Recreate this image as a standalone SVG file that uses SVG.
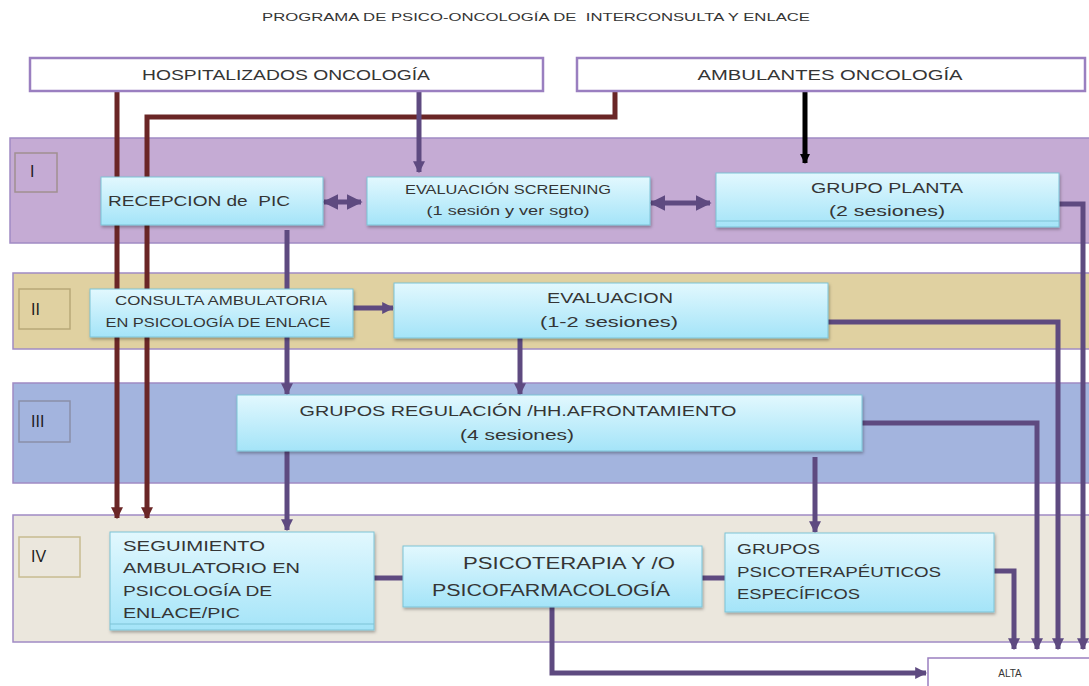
<svg xmlns="http://www.w3.org/2000/svg" width="1089" height="686" viewBox="0 0 1089 686">
<defs>
<linearGradient id="boxg" x1="0" y1="0" x2="0" y2="1">
<stop offset="0" stop-color="#e2f8fe"/>
<stop offset="1" stop-color="#a4e4f8"/>
</linearGradient>
<filter id="sh" x="-5%" y="-10%" width="110%" height="130%">
<feDropShadow dx="1" dy="2" stdDeviation="1.5" flood-color="#000" flood-opacity="0.3"/>
</filter>
<marker id="ap" viewBox="0 0 10 10" refX="9" refY="5" markerWidth="12" markerHeight="12" markerUnits="userSpaceOnUse" orient="auto">
<path d="M0,0 L10,5 L0,10 z" fill="#5e4a80"/>
</marker>
<marker id="dp" viewBox="0 0 10 10" refX="9" refY="5" markerWidth="16" markerHeight="16" markerUnits="userSpaceOnUse" orient="auto-start-reverse">
<path d="M0,0 L10,5 L0,10 z" fill="#5e4a80"/>
</marker>
<marker id="ab" viewBox="0 0 10 10" refX="9" refY="5" markerWidth="12" markerHeight="12" markerUnits="userSpaceOnUse" orient="auto">
<path d="M0,0 L10,5 L0,10 z" fill="#6a2626"/>
</marker>
<marker id="ak" viewBox="0 0 10 10" refX="9" refY="5" markerWidth="10" markerHeight="10" markerUnits="userSpaceOnUse" orient="auto">
<path d="M0,0 L10,5 L0,10 z" fill="#000"/>
</marker>
</defs>
<style>
text{font-family:"Liberation Sans","DejaVu Sans",sans-serif;fill:#353535}
.num{fill:#1e1e1e;font-size:16px}
.band{stroke:#a08bc4;stroke-width:1.5}
.lbl{fill:none;stroke-width:1.5}
.box{fill:url(#boxg);stroke:#7cc3d6;stroke-width:1;filter:url(#sh)}
.top{fill:#fff;stroke:#9a7fc0;stroke-width:2.5}
.pu{fill:none;stroke:#5e4a80;stroke-width:5}
.br{fill:none;stroke:#6a2626;stroke-width:5}
.bk{fill:none;stroke:#000;stroke-width:5}
.strip{fill:none;stroke:#7cc3d6;stroke-width:1}
</style>
<rect width="1089" height="686" fill="#fff"/>
<text x="536" y="21" font-size="11" text-anchor="middle" textLength="548" lengthAdjust="spacingAndGlyphs" xml:space="preserve">PROGRAMA DE PSICO-ONCOLOGÍA DE  INTERCONSULTA Y ENLACE</text>

<g id="bands">
<rect class="band" x="10" y="138" width="1085" height="105" fill="#c5abd4"/>
<rect class="band" x="13" y="273" width="1082" height="76" fill="#e0d1a1"/>
<rect class="band" x="13" y="383" width="1082" height="100" fill="#a3b4de"/>
<rect class="band" x="13" y="515" width="1082" height="127" fill="#ebe7dd"/>
<rect class="lbl" x="15" y="153" width="42" height="39" stroke="#a09090"/>
<text class="num" x="30" y="177">I</text>
<rect class="lbl" x="19" y="289" width="51" height="40" stroke="#b8a878"/>
<text class="num" x="31" y="315">II</text>
<rect class="lbl" x="19" y="401" width="51" height="41" stroke="#8a8fa8"/>
<text class="num" x="31" y="427">III</text>
<rect class="lbl" x="19" y="537" width="61" height="40" stroke="#c8bc90"/>
<text class="num" x="31" y="562">IV</text>
</g>

<g id="connectors">
<path class="br" d="M117,91 V518" marker-end="url(#ab)"/>
<path class="br" d="M615,91 V117 H147 V518" marker-end="url(#ab)"/>
<path class="pu" d="M419,91 V172" marker-end="url(#ap)"/>
<path class="bk" d="M805,91 V163" marker-end="url(#ak)"/>
<path class="pu" d="M324,202 H361" stroke-width="3" marker-start="url(#dp)" marker-end="url(#dp)"/>
<path class="pu" d="M651,203 H710" stroke-width="3" marker-start="url(#dp)" marker-end="url(#dp)"/>
<path class="pu" d="M287,230 V394" marker-end="url(#ap)"/>
<path class="pu" d="M353,308 H393" marker-end="url(#ap)"/>
<path class="pu" d="M520,338 V394" marker-end="url(#ap)"/>
<path class="pu" d="M287,451 V530" marker-end="url(#ap)"/>
<path class="pu" d="M815,457 V532" marker-end="url(#ap)"/>
<path class="pu" d="M374,578 H403"/>
<path class="pu" d="M702,578 H725"/>
<path class="pu" d="M1059,204 H1083 V649" marker-end="url(#ap)"/>
<path class="pu" d="M828,322 H1058 V649" marker-end="url(#ap)"/>
<path class="pu" d="M862,423 H1037 V649" marker-end="url(#ap)"/>
<path class="pu" d="M994,571 H1014 V649" marker-end="url(#ap)"/>
<path class="pu" d="M552,607 V673 H926" marker-end="url(#ap)"/>
</g>

<g id="hospitalizados">
<rect class="top" x="30" y="58" width="513" height="33"/>
<text x="286" y="80" font-size="15" text-anchor="middle" textLength="288" lengthAdjust="spacingAndGlyphs">HOSPITALIZADOS ONCOLOGÍA</text>
</g>
<g id="ambulantes">
<rect class="top" x="577" y="58" width="508" height="33"/>
<text x="830" y="80" font-size="15" text-anchor="middle" textLength="265" lengthAdjust="spacingAndGlyphs">AMBULANTES ONCOLOGÍA</text>
</g>

<g id="recepcion">
<rect class="box" x="101" y="177" width="222" height="48"/>
<text x="108" y="206" font-size="15" textLength="182" lengthAdjust="spacingAndGlyphs" xml:space="preserve">RECEPCION de  PIC</text>
</g>
<g id="screening">
<rect class="box" x="367" y="177" width="283" height="48"/>
<text x="508" y="194" font-size="12" text-anchor="middle" textLength="206" lengthAdjust="spacingAndGlyphs">EVALUACIÓN SCREENING</text>
<text x="508" y="215" font-size="12" text-anchor="middle" textLength="163" lengthAdjust="spacingAndGlyphs">(1 sesión y ver sgto)</text>
</g>
<g id="grupo-planta">
<rect class="box" x="716" y="173" width="343" height="54"/>
<line class="strip" x1="716" y1="221" x2="1059" y2="221"/>
<text x="887" y="193" font-size="15" text-anchor="middle" textLength="152" lengthAdjust="spacingAndGlyphs">GRUPO PLANTA</text>
<text x="887" y="216" font-size="15" text-anchor="middle" textLength="116" lengthAdjust="spacingAndGlyphs">(2 sesiones)</text>
</g>

<g id="consulta">
<rect class="box" x="90" y="289" width="263" height="48"/>
<text x="221" y="305" font-size="12" text-anchor="middle" textLength="212" lengthAdjust="spacingAndGlyphs">CONSULTA AMBULATORIA</text>
<text x="218" y="327" font-size="12" text-anchor="middle" textLength="225" lengthAdjust="spacingAndGlyphs">EN PSICOLOGÍA DE ENLACE</text>
</g>
<g id="evaluacion">
<rect class="box" x="394" y="283" width="434" height="55"/>
<text x="610" y="303" font-size="15" text-anchor="middle" textLength="126" lengthAdjust="spacingAndGlyphs">EVALUACION</text>
<text x="609" y="327" font-size="15" text-anchor="middle" textLength="138" lengthAdjust="spacingAndGlyphs">(1-2 sesiones)</text>
</g>

<g id="grupos-regulacion">
<rect class="box" x="237" y="395" width="625" height="56"/>
<text x="518" y="416" font-size="15" text-anchor="middle" textLength="437" lengthAdjust="spacingAndGlyphs">GRUPOS REGULACIÓN /HH.AFRONTAMIENTO</text>
<text x="517" y="440" font-size="15" text-anchor="middle" textLength="114" lengthAdjust="spacingAndGlyphs">(4 sesiones)</text>
</g>

<g id="seguimiento">
<rect class="box" x="110" y="532" width="264" height="98"/>
<line class="strip" x1="110" y1="624" x2="374" y2="624"/>
<text x="123" y="551" font-size="15" textLength="142" lengthAdjust="spacingAndGlyphs">SEGUIMIENTO</text>
<text x="123" y="573" font-size="15" textLength="177" lengthAdjust="spacingAndGlyphs">AMBULATORIO EN</text>
<text x="123" y="596" font-size="15" textLength="149" lengthAdjust="spacingAndGlyphs">PSICOLOGÍA DE</text>
<text x="123" y="618" font-size="15" textLength="117" lengthAdjust="spacingAndGlyphs">ENLACE/PIC</text>
</g>
<g id="psicoterapia">
<rect class="box" x="403" y="546" width="299" height="61"/>
<text x="569" y="569" font-size="16" text-anchor="middle" textLength="212" lengthAdjust="spacingAndGlyphs">PSICOTERAPIA Y /O</text>
<text x="551" y="596" font-size="16" text-anchor="middle" textLength="238" lengthAdjust="spacingAndGlyphs">PSICOFARMACOLOGÍA</text>
</g>
<g id="grupos-psicoterapeuticos">
<rect class="box" x="725" y="533" width="269" height="79"/>
<text x="737" y="554" font-size="15" textLength="83" lengthAdjust="spacingAndGlyphs">GRUPOS</text>
<text x="737" y="577" font-size="15" textLength="204" lengthAdjust="spacingAndGlyphs">PSICOTERAPÉUTICOS</text>
<text x="737" y="599" font-size="15" textLength="123" lengthAdjust="spacingAndGlyphs">ESPECÍFICOS</text>
</g>
<g id="alta">
<rect x="928" y="658" width="170" height="40" fill="#fff" stroke="#9a7fc0" stroke-width="1.5"/>
<text x="1010" y="677" font-size="10" text-anchor="middle">ALTA</text>
</g>
</svg>
